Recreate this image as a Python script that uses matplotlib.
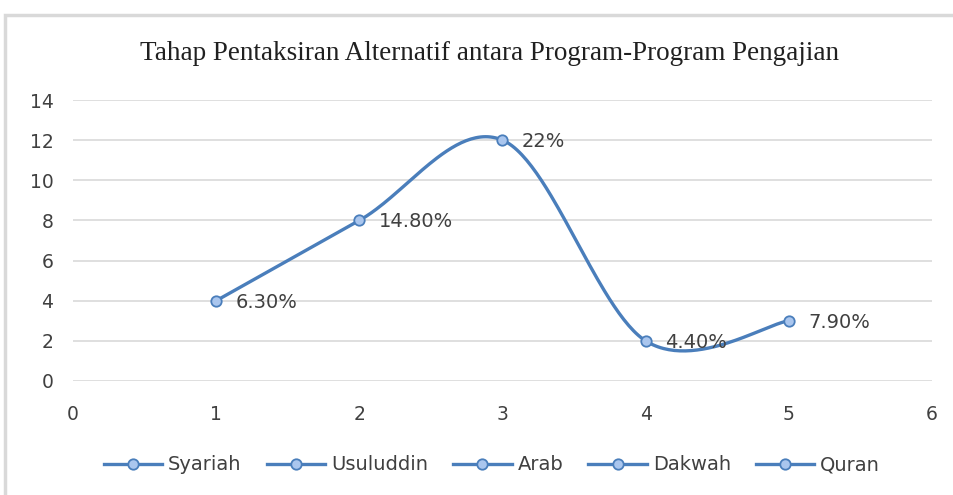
import numpy as np
import matplotlib
matplotlib.use("Agg")
import matplotlib.pyplot as plt
from matplotlib.patches import Rectangle
from matplotlib.lines import Line2D

title = "Tahap Pentaksiran Alternatif antara Program-Program Pengajian"
x_vals = [1, 2, 3, 4, 5]
y_vals = [4, 8, 12, 2, 3]
point_labels = ["6.30%", "14.80%", "22%", "4.40%", "7.90%"]
legend_names = ["Syariah", "Usuluddin", "Arab", "Dakwah", "Quran"]
x_ticks = [0, 1, 2, 3, 4, 5, 6]
y_ticks = [0, 2, 4, 6, 8, 10, 12, 14]

LINE = "#4a7ebb"
FILL = "#aac6ee"
GRID = "#d9d9d9"
TXT = "#404040"

def smooth(xs, ys, n=60):
    P = np.column_stack([xs, ys]).astype(float)
    P = np.vstack([P[0], P, P[-1]])
    out = []
    for i in range(1, len(P) - 2):
        p0, p1, p2, p3 = P[i - 1], P[i], P[i + 1], P[i + 2]
        c1 = p1 + (p2 - p0) / 6.0
        c2 = p2 - (p3 - p1) / 6.0
        t = np.linspace(0, 1, n)[:, None]
        seg = (1 - t) ** 3 * p1 + 3 * (1 - t) ** 2 * t * c1 + 3 * (1 - t) * t ** 2 * c2 + t ** 3 * p2
        out.append(seg)
    out = np.vstack(out)
    return out[:, 0], out[:, 1]

fig = plt.figure(figsize=(9.54, 4.95), dpi=100)
fig.patches.append(Rectangle((5 / 954, -0.1), 1.2, (495 - 15) / 495 + 0.1,
                             transform=fig.transFigure, fill=False,
                             edgecolor=GRID, linewidth=2.5))

ax = fig.add_axes([73 / 954, 114 / 495, (932 - 73) / 954, 281 / 495])
ax.set_xlim(0, 6)
ax.set_ylim(0, 14)
ax.set_xticks(x_ticks)
ax.set_yticks(y_ticks)
for s in ax.spines.values():
    s.set_visible(False)
ax.grid(axis="y", color=GRID, linewidth=1.2)
ax.set_axisbelow(True)
ax.tick_params(length=0, labelsize=13.5, colors=TXT)
ax.tick_params(axis="y", pad=14)
ax.tick_params(axis="x", pad=17)

sx, sy = smooth(x_vals, y_vals)
ax.plot(sx, sy, color=LINE, linewidth=2.4, solid_capstyle="round")
ax.plot(x_vals, y_vals, linestyle="none", marker="o", markersize=7.5,
        markerfacecolor=FILL, markeredgecolor=LINE, markeredgewidth=1.3)
for xv, yv, lab in zip(x_vals, y_vals, point_labels):
    ax.annotate(lab, (xv, yv), xytext=(14, -1), textcoords="offset points",
                va="center", ha="left", fontsize=14, color=TXT)

fig.text(490 / 954, 1 - 53 / 495, title, ha="center", va="center",
         fontsize=19.5, family="Liberation Serif", color="#202020")

handles = [Line2D([0], [0], color=LINE, linewidth=2.4, marker="o", markersize=7.5,
                  markerfacecolor=FILL, markeredgecolor=LINE, markeredgewidth=1.3)
           for _ in legend_names]
fig.legend(handles, legend_names, loc="center", bbox_to_anchor=(492 / 954, 1 - 465 / 495),
           ncol=5, frameon=False, fontsize=14, handlelength=3.0, columnspacing=1.3,
           handletextpad=0.3, labelcolor=TXT)

fig.savefig("out.png", dpi=100)
